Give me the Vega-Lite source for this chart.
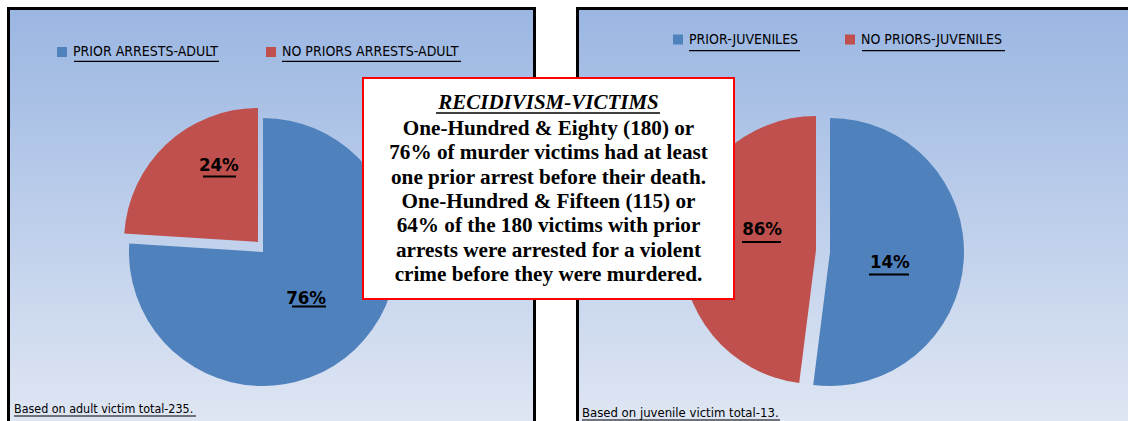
{
  "$schema": "https://vega.github.io/schema/vega-lite/v6.json",
  "background": "white",
  "padding": {"left": 5, "top": 5, "right": 0, "bottom": 0},
  "spacing": 40,
  "bounds": "flush",
  "resolve": {"scale": {"color": "independent", "theta": "independent"}, "legend": {"color": "independent"}},
  "config": {"view": {"stroke": null}},
  "hconcat": [
    {
      "width": 529,
      "height": 416,
      "data": {"values": [
        {"group": "PRIOR ARRESTS-ADULT", "share": 76, "label": "76%"},
        {"group": "NO PRIORS ARRESTS-ADULT", "share": 24, "label": "24%"}
      ]},
      "layer": [
        {"data": {"values": [{}]}, "mark": {"type": "rect", "fill": {"gradient": "linear", "x1": 0, "y1": 0, "x2": 0, "y2": 1, "stops": [{"offset": 0, "color": "#9ab6e2"}, {"offset": 1, "color": "#dfe6f3"}]}},
         "encoding": {"x": {"value": 0}, "x2": {"value": "width"}, "y": {"value": 0}, "y2": {"value": "height"}}},
        {"data": {"values": [{}]}, "mark": {"type": "rule", "color": "black", "strokeWidth": 3},
         "encoding": {"x": {"value": 1.5}, "y": {"value": 0}, "y2": {"value": "height"}}},
        {"data": {"values": [{}]}, "mark": {"type": "rule", "color": "black", "strokeWidth": 3},
         "encoding": {"x": {"value": 0}, "x2": {"value": "width"}, "y": {"value": 1.5}}},
        {"data": {"values": [{}]}, "mark": {"type": "rule", "color": "black", "strokeWidth": 3},
         "encoding": {"x": {"value": 527.5}, "y": {"value": 0}, "y2": {"value": "height"}}},
        {"mark": {"type": "arc", "radius": 134, "x": 256, "y": 245, "strokeWidth": 0},
         "encoding": {
           "theta": {"field": "share", "type": "quantitative", "stack": true},
           "order": {"field": "share", "type": "quantitative", "sort": "descending"},
           "color": {"field": "group", "type": "nominal",
             "scale": {"domain": ["PRIOR ARRESTS-ADULT", "NO PRIORS ARRESTS-ADULT"], "range": ["#4f81bd", "#c0504d"]},
             "legend": {"orient": "none", "legendX": 48, "legendY": 38, "direction": "horizontal", "title": null, "symbolType": "square", "symbolSize": 100, "symbolStrokeWidth": 0, "labelFont": "DejaVu Sans Condensed, Liberation Sans, sans-serif", "labelFontSize": 14, "labelColor": "#000", "labelOffset": 4, "columnPadding": 45, "padding": 0, "labelLimit": 400}},
           "fillOpacity": {"condition": {"test": "datum.group === 'NO PRIORS ARRESTS-ADULT'", "value": 0}, "value": 1}
         }},
        {"mark": {"type": "arc", "radius": 134, "x": 251, "y": 235, "strokeWidth": 0},
         "encoding": {
           "theta": {"field": "share", "type": "quantitative", "stack": true},
           "order": {"field": "share", "type": "quantitative", "sort": "descending"},
           "color": {"field": "group", "type": "nominal",
             "scale": {"domain": ["PRIOR ARRESTS-ADULT", "NO PRIORS ARRESTS-ADULT"], "range": ["#4f81bd", "#c0504d"]}},
           "fillOpacity": {"condition": {"test": "datum.group === 'PRIOR ARRESTS-ADULT'", "value": 0}, "value": 1}
         }},
        {"mark": {"type": "text", "x": 256, "y": 245, "radius": 63, "font": "DejaVu Sans Condensed, Liberation Sans, sans-serif", "fontSize": 18.5, "fontWeight": "bold", "color": "#000", "align": "center", "baseline": "middle"},
         "encoding": {
           "theta": {"field": "share", "type": "quantitative", "stack": true},
           "order": {"field": "share", "type": "quantitative", "sort": "descending"},
           "detail": {"field": "group"},
           "text": {"field": "label"},
           "opacity": {"condition": {"test": "datum.group === 'NO PRIORS ARRESTS-ADULT'", "value": 0}, "value": 1}
         }},
        {"mark": {"type": "text", "x": 251, "y": 235, "radius": 85, "dx": 19, "dy": -15, "font": "DejaVu Sans Condensed, Liberation Sans, sans-serif", "fontSize": 18.5, "fontWeight": "bold", "color": "#000", "align": "center", "baseline": "middle"},
         "encoding": {
           "theta": {"field": "share", "type": "quantitative", "stack": true},
           "order": {"field": "share", "type": "quantitative", "sort": "descending"},
           "detail": {"field": "group"},
           "text": {"field": "label"},
           "opacity": {"condition": {"test": "datum.group === 'PRIOR ARRESTS-ADULT'", "value": 0}, "value": 1}
         }},
        {"data": {"values": [{"note": "Based on adult victim total-235."}]},
         "mark": {"type": "text", "x": 7, "y": 406, "align": "left", "baseline": "alphabetic", "font": "DejaVu Sans Condensed, Liberation Sans, sans-serif", "fontSize": 12.4, "color": "#000"},
         "encoding": {"text": {"field": "note"}}},
        {"data": {"values": [{}]}, "mark": {"type": "rule", "color": "#000", "strokeWidth": 1.2}, "encoding": {"x": {"value": 7}, "x2": {"value": 189}, "y": {"value": 409}}},
        {"data": {"values": [{}]}, "mark": {"type": "rule", "color": "#000", "strokeWidth": 1.2}, "encoding": {"x": {"value": 67}, "x2": {"value": 212}, "y": {"value": 54.3}}},
        {"data": {"values": [{}]}, "mark": {"type": "rule", "color": "#000", "strokeWidth": 1.2}, "encoding": {"x": {"value": 275}, "x2": {"value": 454}, "y": {"value": 54.3}}},
        {"data": {"values": [{}]}, "mark": {"type": "rule", "color": "#000", "strokeWidth": 1.8}, "encoding": {"x": {"value": 196}, "x2": {"value": 229}, "y": {"value": 169.5}}},
        {"data": {"values": [{}]}, "mark": {"type": "rule", "color": "#000", "strokeWidth": 1.8}, "encoding": {"x": {"value": 285}, "x2": {"value": 319}, "y": {"value": 299.5}}}
      ]
    },
    {
      "width": 554,
      "height": 416,
      "data": {"values": [
        {"group": "PRIOR-JUVENILES", "share": 52, "label": "14%"},
        {"group": "NO PRIORS-JUVENILES", "share": 48, "label": "86%"}
      ]},
      "layer": [
        {"data": {"values": [{}]}, "mark": {"type": "rect", "fill": {"gradient": "linear", "x1": 0, "y1": 0, "x2": 0, "y2": 1, "stops": [{"offset": 0, "color": "#9ab6e2"}, {"offset": 1, "color": "#dfe6f3"}]}},
         "encoding": {"x": {"value": 0}, "x2": {"value": "width"}, "y": {"value": 0}, "y2": {"value": "height"}}},
        {"data": {"values": [{}]}, "mark": {"type": "rule", "color": "black", "strokeWidth": 3},
         "encoding": {"x": {"value": 1.5}, "y": {"value": 0}, "y2": {"value": "height"}}},
        {"data": {"values": [{}]}, "mark": {"type": "rule", "color": "black", "strokeWidth": 3},
         "encoding": {"x": {"value": 0}, "x2": {"value": "width"}, "y": {"value": 1.5}}},
        {"mark": {"type": "arc", "radius": 134, "x": 254, "y": 245, "strokeWidth": 0},
         "encoding": {
           "theta": {"field": "share", "type": "quantitative", "stack": true},
           "order": {"field": "share", "type": "quantitative", "sort": "descending"},
           "color": {"field": "group", "type": "nominal",
             "scale": {"domain": ["PRIOR-JUVENILES", "NO PRIORS-JUVENILES"], "range": ["#4f81bd", "#c0504d"]},
             "legend": {"orient": "none", "legendX": 95, "legendY": 25.5, "direction": "horizontal", "title": null, "symbolType": "square", "symbolSize": 100, "symbolStrokeWidth": 0, "labelFont": "DejaVu Sans Condensed, Liberation Sans, sans-serif", "labelFontSize": 14, "labelColor": "#000", "labelOffset": 4, "columnPadding": 44, "padding": 0, "labelLimit": 400}},
           "fillOpacity": {"condition": {"test": "datum.group === 'NO PRIORS-JUVENILES'", "value": 0}, "value": 1}
         }},
        {"mark": {"type": "arc", "radius": 134, "x": 240, "y": 243, "strokeWidth": 0},
         "encoding": {
           "theta": {"field": "share", "type": "quantitative", "stack": true},
           "order": {"field": "share", "type": "quantitative", "sort": "descending"},
           "color": {"field": "group", "type": "nominal",
             "scale": {"domain": ["PRIOR-JUVENILES", "NO PRIORS-JUVENILES"], "range": ["#4f81bd", "#c0504d"]}},
           "fillOpacity": {"condition": {"test": "datum.group === 'PRIOR-JUVENILES'", "value": 0}, "value": 1}
         }},
        {"mark": {"type": "text", "x": 254, "y": 245, "radius": 60, "dy": 6, "font": "DejaVu Sans Condensed, Liberation Sans, sans-serif", "fontSize": 18.5, "fontWeight": "bold", "color": "#000", "align": "center", "baseline": "middle"},
         "encoding": {
           "theta": {"field": "share", "type": "quantitative", "stack": true},
           "order": {"field": "share", "type": "quantitative", "sort": "descending"},
           "detail": {"field": "group"},
           "text": {"field": "label"},
           "opacity": {"condition": {"test": "datum.group === 'NO PRIORS-JUVENILES'", "value": 0}, "value": 1}
         }},
        {"mark": {"type": "text", "x": 240, "y": 243, "radius": 55, "dx": 1, "dy": -17.5, "font": "DejaVu Sans Condensed, Liberation Sans, sans-serif", "fontSize": 18.5, "fontWeight": "bold", "color": "#000", "align": "center", "baseline": "middle"},
         "encoding": {
           "theta": {"field": "share", "type": "quantitative", "stack": true},
           "order": {"field": "share", "type": "quantitative", "sort": "descending"},
           "detail": {"field": "group"},
           "text": {"field": "label"},
           "opacity": {"condition": {"test": "datum.group === 'PRIOR-JUVENILES'", "value": 0}, "value": 1}
         }},
        {"data": {"values": [{"note": "Based on juvenile victim total-13."}]},
         "mark": {"type": "text", "x": 6, "y": 410, "align": "left", "baseline": "alphabetic", "font": "DejaVu Sans Condensed, Liberation Sans, sans-serif", "fontSize": 13, "color": "#000"},
         "encoding": {"text": {"field": "note"}}},
        {"data": {"values": [{}]}, "mark": {"type": "rule", "color": "#000", "strokeWidth": 1.2}, "encoding": {"x": {"value": 6}, "x2": {"value": 204}, "y": {"value": 413}}},
        {"data": {"values": [{}]}, "mark": {"type": "rule", "color": "#000", "strokeWidth": 1.2}, "encoding": {"x": {"value": 113}, "x2": {"value": 224}, "y": {"value": 43.7}}},
        {"data": {"values": [{}]}, "mark": {"type": "rule", "color": "#000", "strokeWidth": 1.2}, "encoding": {"x": {"value": 286}, "x2": {"value": 429}, "y": {"value": 43.7}}},
        {"data": {"values": [{}]}, "mark": {"type": "rule", "color": "#000", "strokeWidth": 1.8}, "encoding": {"x": {"value": 166}, "x2": {"value": 205}, "y": {"value": 235}}},
        {"data": {"values": [{}]}, "mark": {"type": "rule", "color": "#000", "strokeWidth": 1.8}, "encoding": {"x": {"value": 293}, "x2": {"value": 333}, "y": {"value": 267.5}}},
        {"data": {"values": [{}]}, "mark": {"type": "rect", "x": -213, "x2": 158, "y": 71, "y2": 292, "fill": "white", "stroke": "#ff0000", "strokeWidth": 2}, "encoding": {}},
        {"data": {"values": [{"title": "RECIDIVISM-VICTIMS"}]},
         "mark": {"type": "text", "x": -27.5, "y": 102, "align": "center", "baseline": "alphabetic", "font": "Liberation Serif, Times New Roman, serif", "fontSize": 21, "fontWeight": "bold", "fontStyle": "italic", "color": "#000"},
         "encoding": {"text": {"field": "title"}}},
        {"data": {"values": [{}]}, "mark": {"type": "rule", "color": "#000", "strokeWidth": 1.5}, "encoding": {"x": {"value": -140}, "x2": {"value": 84}, "y": {"value": 106}}},
        {"data": {"values": [{}]},
         "mark": {"type": "text", "x": -27.5, "y": 128, "align": "center", "baseline": "alphabetic", "lineHeight": 24.3, "font": "Liberation Serif, Times New Roman, serif", "fontSize": 21.2, "fontWeight": "bold", "color": "#000",
           "text": ["One-Hundred & Eighty (180) or", "76% of murder victims had at least", "one prior arrest before their death.", "One-Hundred & Fifteen (115) or", "64% of the 180 victims with prior", "arrests were arrested for a violent", "crime before they were murdered."]},
         "encoding": {}}
      ]
    }
  ]
}
